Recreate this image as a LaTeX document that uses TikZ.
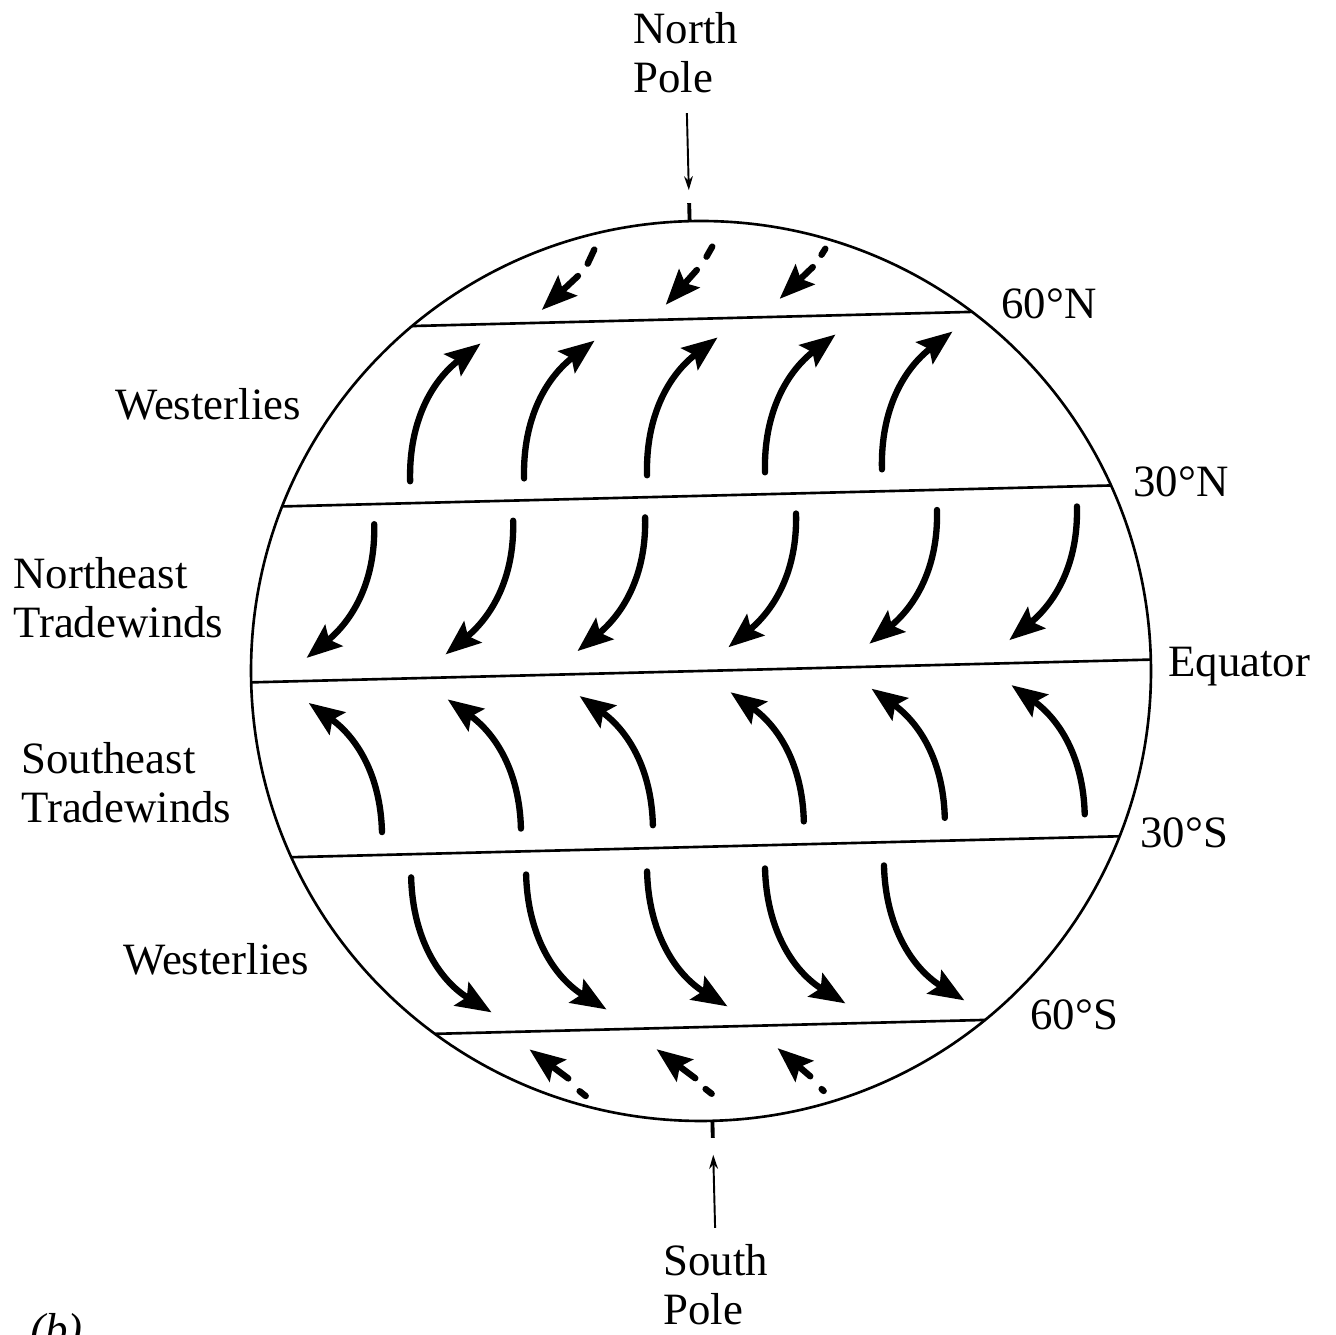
\documentclass[tikz,border=0pt]{standalone}
\usepackage{fontspec}
\setmainfont{Liberation Serif}
\usepackage{tikz}
\usetikzlibrary{arrows.meta}

\begin{document}
\begin{tikzpicture}[x=0.02cm, y=0.02cm, every node/.style={font=\fontsize{25.5}{27.8}\selectfont, inner sep=0pt},
	wind/.style={line width=3.6pt, line cap=round, -{Stealth[length=20pt, width=15.5pt, inset=3.5pt]}},
	dashbit/.style={line width=3.6pt, line cap=round},
	rim/.style={line width=1.5pt},
	pointer/.style={line width=1.1pt, -{Stealth[length=8pt, width=5pt]}}]
	\useasboundingbox (0,0) rectangle (1336,1335);
	\begin{scope}[shift={(701,664)}, rotate=1.45]
		\draw[rim] (0,0) circle (450);
		\foreach \a in {51.5,22.9,0,-23,-52.3} {\draw[rim] (180-\a:450) -- (\a:450);}
		\foreach \u in {-286,-172,-49,69,186} {\draw[wind] (\u,197) to[out=90,in=216] ++(74,136);}
		\foreach \u in {-323,-184,-52,99,240,380} {
			\draw[wind] (\u,155) to[out=270,in=38] ++(-71,-132);
			\draw[wind] (\u,-153) to[out=90,in=323] ++(-70,131);
		}
		\foreach \u in {-295,-180,-59,59,178} {\draw[wind] (\u,-199) to[out=270,in=147] ++(77,-137);}
		\foreach \du/\dw/\eu/\ew/\su/\sw/\tu/\tw in {-96/424/-103/410/-113/398/-150/365, 22/424/16/414/6/401/-26/367, 135/419/131/413/122/401/88/370} {
			\draw[dashbit] (\du,\dw) -- (\eu,\ew);
			\draw[wind] (\su,\sw) -- (\tu,\tw);
		}
		\foreach \du/\dw/\eu/\ew/\su/\sw/\tu/\tw in {-132/-417/-126/-422/-143/-404/-181/-374, -6/-418/0/-423/-16/-407/-54/-377, 110/-421/112/-423/99/-408/67/-379} {
			\draw[dashbit] (\du,\dw) -- (\eu,\ew);
			\draw[wind] (\su,\sw) -- (\tu,\tw);
		}
		\coordinate (ntop) at (0,450);
		\coordinate (ntick) at (0,468);
		\coordinate (nfrom) at (0,558);
		\coordinate (nto) at (0,481);
		\coordinate (sbot) at (0,-450);
		\coordinate (stick) at (0,-467);
		\coordinate (sfrom) at (0,-557);
		\coordinate (sto) at (0,-484);
		\draw[line width=2.2pt] (ntop) -- (ntick);
		\draw[line width=2.2pt] (sbot) -- (stick);
		\draw[pointer] (nfrom) -- (nto);
		\draw[pointer] (sfrom) -- (sto);
	\end{scope}
	\node[anchor=north west, align=left] (npole) at (633,1323) {North\\Pole};
	\node[anchor=north west, align=left] (spole) at (663,91) {South\\Pole};
	\node[anchor=base west] (lat60n) at (1001,1016) {60\textdegree N};
	\node[anchor=base west] (lat30n) at (1133,838) {30\textdegree N};
	\node[anchor=base west] (equator) at (1168,658) {Equator};
	\node[anchor=base west] (lat30s) at (1140,487) {30\textdegree S};
	\node[anchor=base west] (lat60s) at (1030,305) {60\textdegree S};
	\node[anchor=base west] (westn) at (115,915) {Westerlies};
	\node[anchor=north west, align=left] (netrade) at (13,778) {Northeast\\Tradewinds};
	\node[anchor=north west, align=left] (setrade) at (21,593) {Southeast\\Tradewinds};
	\node[anchor=base west] (wests) at (123,360) {Westerlies};
	\node[anchor=base west] (panel) at (30,-10) {\textit{(b)}};
\end{tikzpicture}
\end{document}
